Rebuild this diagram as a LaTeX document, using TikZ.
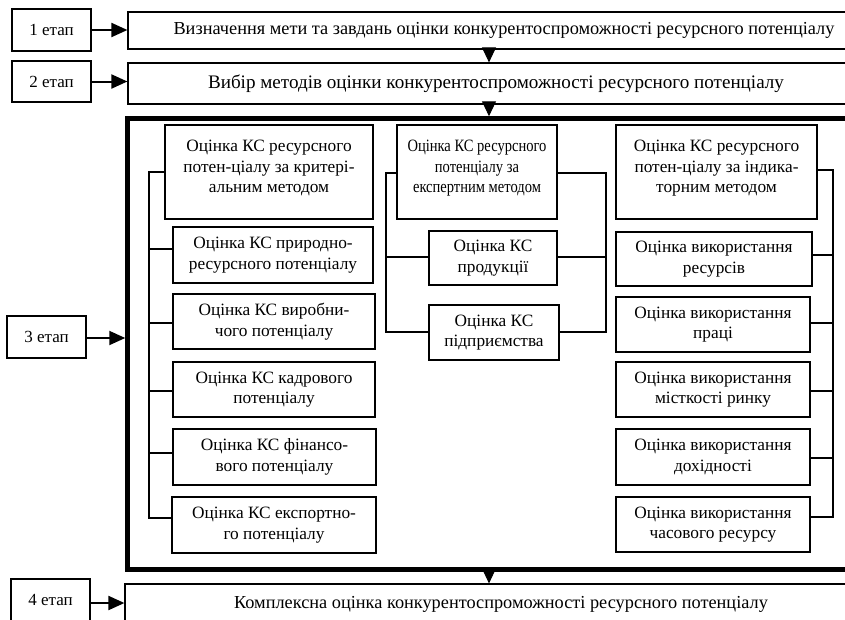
\documentclass[tikz,border=0pt]{standalone}
\usepackage{fontspec}
\setmainfont{Liberation Serif}
\newfontfamily\narrowserif[FakeStretch=0.84]{Liberation Serif}
\usetikzlibrary{arrows.meta}
\begin{document}
\begin{tikzpicture}[x=1pt,y=-1pt,
  bx/.style={draw, line width=1.2pt, inner sep=0pt, align=center,
    font={\fontsize{17.3}{20.5}\selectfont}},
  wide/.style={font={\fontsize{18.3}{20.5}\selectfont}},
  wider/.style={font={\fontsize{19.1}{20.5}\selectfont}},
  stg/.style={font={\fontsize{17}{20.5}\selectfont}},
  frm/.style={draw, line width=4.5pt, inner sep=0pt},
  con/.style={line width=1.5pt},
  harr/.style={line width=2pt, -{Triangle[length=16pt,width=14pt]}},
  varr/.style={line width=1pt, -{Triangle[length=15pt,width=14pt]}}]
\clip (0,0) rectangle (845,619);
\fill[white] (0,0) rectangle (845,619);
% stage labels
\node[bx, stg, minimum width=79pt, minimum height=42pt] (e1) at (51.5,30) {1 етап};
\node[bx, stg, minimum width=79pt, minimum height=41pt] (e2) at (51.5,81.5) {2 етап};
\node[bx, stg, minimum width=79pt, minimum height=42pt] (e3) at (46.5,337) {3 етап};
\node[bx, stg, minimum width=79pt, minimum height=42pt] (e4) at (50.5,600) {4 етап};
% main boxes
\node[bx, wide, minimum width=752pt, minimum height=37pt] (b1) at (504,30.5)
  {Визначення мети та завдань оцінки конкурентоспроможності ресурсного потенціалу};
\node[bx, wider, minimum width=736pt, minimum height=41pt] (b2) at (496,83.5)
  {Вибір методів оцінки конкурентоспроможності ресурсного потенціалу};
\node[frm, minimum width=772.5pt, minimum height=451pt] (fr) at (513.75,344) {};
\node[bx, wide, minimum width=752pt, minimum height=40pt] (b4) at (501,604)
  {Комплексна оцінка конкурентоспроможності ресурсного потенціалу};
% arrows
\coordinate (ax) at (489,0);
\coordinate (a3) at ([yshift=-1pt]e3.east);
\coordinate (a4) at ([yshift=-3pt]e4.east);
\draw[harr] (e1.east) -- (b1.west |- e1.east);
\draw[harr] (e2.east) -- (b2.west |- e2.east);
\draw[harr] (a3) -- (fr.west |- a3);
\draw[harr] (a4) -- (b4.west |- a4);
\draw[varr] (b1.south -| ax) -- (b2.north -| ax);
\draw[varr] (b2.south -| ax) -- (fr.north -| ax);
\draw[varr] (fr.south -| ax) -- (b4.north -| ax);
% column 1
\node[bx, minimum width=208pt, minimum height=94pt] (c0) at (269,172)
  {Оцінка КС ресурсного\\потен-ціалу за критері-\\альним методом\\[-10pt]\mbox{}};
\node[bx, minimum width=200pt, minimum height=56pt] (c1) at (273,255)
  {Оцінка КС природно-\\ресурсного потенціалу};
\node[bx, minimum width=202pt, minimum height=55pt] (c2) at (274,321.5)
  {Оцінка КС виробни-\\чого потенціалу};
\node[bx, minimum width=202pt, minimum height=55pt] (c3) at (274,389.5)
  {Оцінка КС кадрового\\потенціалу};
\node[bx, minimum width=203pt, minimum height=56pt] (c4) at (274.5,457)
  {Оцінка КС фінансо-\\вого потенціалу};
\node[bx, minimum width=204pt, minimum height=56pt] (c5) at (274,525)
  {Оцінка КС експортно-\\го потенціалу};
% column 2
\node[bx, font={\narrowserif\fontsize{17.3}{20.5}\selectfont}, minimum width=160pt, minimum height=94pt] (d0) at (477,172)
  {Оцінка КС ресурсного\\потенціалу за\\експертним методом\\[-10pt]\mbox{}};
\node[bx, minimum width=128pt, minimum height=54pt] (d1) at (493,258)
  {Оцінка КС\\продукції};
\node[bx, minimum width=130pt, minimum height=55pt] (d2) at (494,332.5)
  {Оцінка КС\\підприємства};
% column 3
\node[bx, minimum width=201pt, minimum height=94pt] (i0) at (716.5,172)
  {Оцінка КС ресурсного\\потен-ціалу за індика-\\торним методом\\[-10pt]\mbox{}};
\node[bx, minimum width=196pt, minimum height=54pt] (i1) at (714,259)
  {Оцінка використання\\ресурсів};
\node[bx, minimum width=194pt, minimum height=55pt] (i2) at (713,324.5)
  {Оцінка використання\\праці};
\node[bx, minimum width=194pt, minimum height=55pt] (i3) at (713,389.5)
  {Оцінка використання\\місткості ринку};
\node[bx, minimum width=194pt, minimum height=56pt] (i4) at (713,457)
  {Оцінка використання\\дохідності};
\node[bx, minimum width=194pt, minimum height=55pt] (i5) at (713,524.5)
  {Оцінка використання\\часового ресурсу};
% spines
\coordinate (s1) at (149,0);
\coordinate (s2l) at (386,0);
\coordinate (s2r) at (606,0);
\coordinate (s3) at (833,0);
% tick points
\coordinate (tc1) at ([yshift=6pt]c1.west);
\coordinate (tc2) at ([yshift=-1.5pt]c2.west);
\coordinate (tc3) at ([yshift=-1.5pt]c3.west);
\coordinate (tc4) at ([yshift=4pt]c4.west);
\coordinate (tc5) at ([yshift=7pt]c5.west);
\coordinate (td0l) at ([yshift=-1pt]d0.west);
\coordinate (td0r) at ([yshift=-1pt]d0.east);
\coordinate (td1l) at ([yshift=1pt]d1.west);
\coordinate (td1r) at ([yshift=1pt]d1.east);
\coordinate (td2l) at ([yshift=0.5pt]d2.west);
\coordinate (td2r) at ([yshift=0.5pt]d2.east);
\coordinate (ti0) at ([yshift=2pt]i0.east);
\coordinate (ti1) at ([yshift=4pt]i1.east);
\coordinate (ti2) at ([yshift=1.5pt]i2.east);
\coordinate (ti3) at ([yshift=-1.5pt]i3.east);
\coordinate (ti4) at ([yshift=-1pt]i4.east);
\coordinate (ti5) at ([yshift=7.5pt]i5.east);
% column 1 connectors
\draw[con] (c0.west) -- (c0.west -| s1) -- (tc5 -| s1) -- (tc5);
\draw[con] (tc1) -- (tc1 -| s1);
\draw[con] (tc2) -- (tc2 -| s1);
\draw[con] (tc3) -- (tc3 -| s1);
\draw[con] (tc4) -- (tc4 -| s1);
% column 2 connectors
\draw[con] (td0l) -- (td0l -| s2l) -- (td2l -| s2l) -- (td2l);
\draw[con] (td0r) -- (td0r -| s2r) -- (td2r -| s2r) -- (td2r);
\draw[con] (td1l) -- (td1l -| s2l);
\draw[con] (td1r) -- (td1r -| s2r);
% column 3 connectors
\draw[con] (ti0) -- (ti0 -| s3) -- (ti5 -| s3) -- (ti5);
\draw[con] (ti1) -- (ti1 -| s3);
\draw[con] (ti2) -- (ti2 -| s3);
\draw[con] (ti3) -- (ti3 -| s3);
\draw[con] (ti4) -- (ti4 -| s3);
\end{tikzpicture}
\end{document}
